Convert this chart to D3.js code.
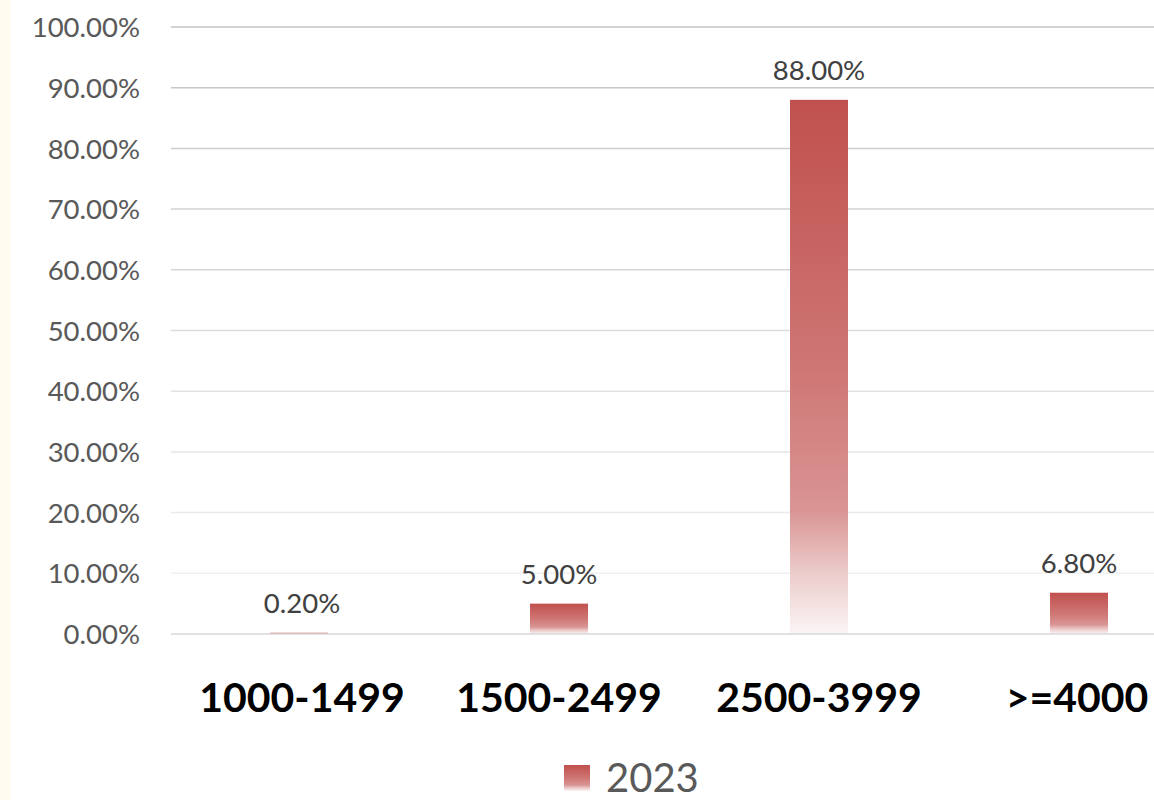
<!DOCTYPE html>
<html><head><meta charset="utf-8">
<script src="https://cdn.jsdelivr.net/npm/d3@7/dist/d3.min.js"></script>
<style>
html,body{margin:0;padding:0;background:#fff;}
svg{display:block;font-family:Lato, "Open Sans", sans-serif;}
</style></head>
<body>
<svg id="chart" width="1154" height="800"></svg>
<script>
const categories = ["1000-1499", "1500-2499", "2500-3999", ">=4000"];
const values2023 = [0.002, 0.05, 0.88, 0.068];
const valueLabels = ["0.20%", "5.00%", "88.00%", "6.80%"];
const yTicks = [0, 0.1, 0.2, 0.3, 0.4, 0.5, 0.6, 0.7, 0.8, 0.9, 1.0];
const seriesName = "2023";

const svg = d3.select("#chart");

// faint cream strip at left edge
svg.append("rect").attr("x", 0).attr("y", 0).attr("width", 11).attr("height", 800).attr("fill", "#fffbf1");

const defs = svg.append("defs");
const grad = defs.append("linearGradient").attr("id", "barGrad")
  .attr("x1", 0).attr("y1", 0).attr("x2", 0).attr("y2", 1);
[[0, "#c0504d"], [0.5, "#ce7674"], [0.77, "#d99594"], [0.88, "#ecc9c9"], [1, "#fbf5f5"]]
  .forEach(([o, c]) => grad.append("stop").attr("offset", o).attr("stop-color", c));

const x = d3.scaleBand().domain(categories).range([169, 1209])
  .paddingInner(0.777).paddingOuter(0.3885);
const y = d3.scaleLinear().domain([0, 1]).range([634, 27]);

// gridlines (fading toward bottom)
const gridColor = d3.scaleLinear().domain([0.1, 1]).range(["#f0f0f0", "#c3c3c3"]);
const grid = svg.append("g").attr("class", "grid");
grid.selectAll("line").data(yTicks.filter(d => d > 0)).enter().append("line")
  .attr("x1", 171).attr("x2", 1154)
  .attr("y1", d => y(d)).attr("y2", d => y(d))
  .attr("stroke", d => gridColor(d)).attr("stroke-width", 1.5);

// y-axis labels
const yAxis = d3.axisLeft(y).tickValues(yTicks).tickSize(0).tickPadding(0)
  .tickFormat(d => (d * 100).toFixed(2) + "%");
const yg = svg.append("g").attr("transform", "translate(140,0)").call(yAxis);
yg.select(".domain").remove();
yg.selectAll("text").attr("font-family", "Lato, sans-serif").attr("font-size", 27.5)
  .attr("fill", "#595959").attr("dy", "0.35em").attr("text-anchor", "end");

// bars
svg.append("g").selectAll("rect").data(values2023).enter().append("rect")
  .attr("x", (d, i) => x(categories[i]))
  .attr("width", x.bandwidth())
  .attr("y", d => y(d))
  .attr("height", d => y(0) - y(d))
  .attr("fill", "url(#barGrad)");

// baseline
svg.append("line").attr("x1", 171).attr("x2", 1154).attr("y1", y(0)).attr("y2", y(0))
  .attr("stroke", "#d9d9d9").attr("stroke-width", 1.5);

// data labels
svg.append("g").selectAll("text").data(values2023).enter().append("text")
  .attr("x", (d, i) => x(categories[i]) + x.bandwidth() / 2 + (i === 0 ? 3 : 0))
  .attr("y", d => y(d) - 20)
  .attr("text-anchor", "middle")
  .attr("font-size", 27.5).attr("fill", "#404040")
  .text((d, i) => valueLabels[i]);

// x-axis labels
const xAxis = d3.axisBottom(x).tickSize(0).tickPadding(0);
const xg = svg.append("g").attr("transform", "translate(0,712)").call(xAxis);
xg.select(".domain").remove();
xg.selectAll("text").attr("font-family", "Lato, sans-serif").attr("font-size", 41)
  .attr("font-weight", "bold").attr("fill", "#000").attr("dy", 0)
  .attr("dx", (d, i) => (i === 0 ? 3 : i === 3 ? -2 : 0));

// legend
const lg = svg.append("g").attr("transform", "translate(564,765)");
lg.append("rect").attr("width", 26).attr("height", 26).attr("fill", "url(#barGrad)");
lg.append("text").attr("x", 42).attr("y", 27).attr("font-size", 40).attr("fill", "#595959").text(seriesName);
</script>
</body></html>
